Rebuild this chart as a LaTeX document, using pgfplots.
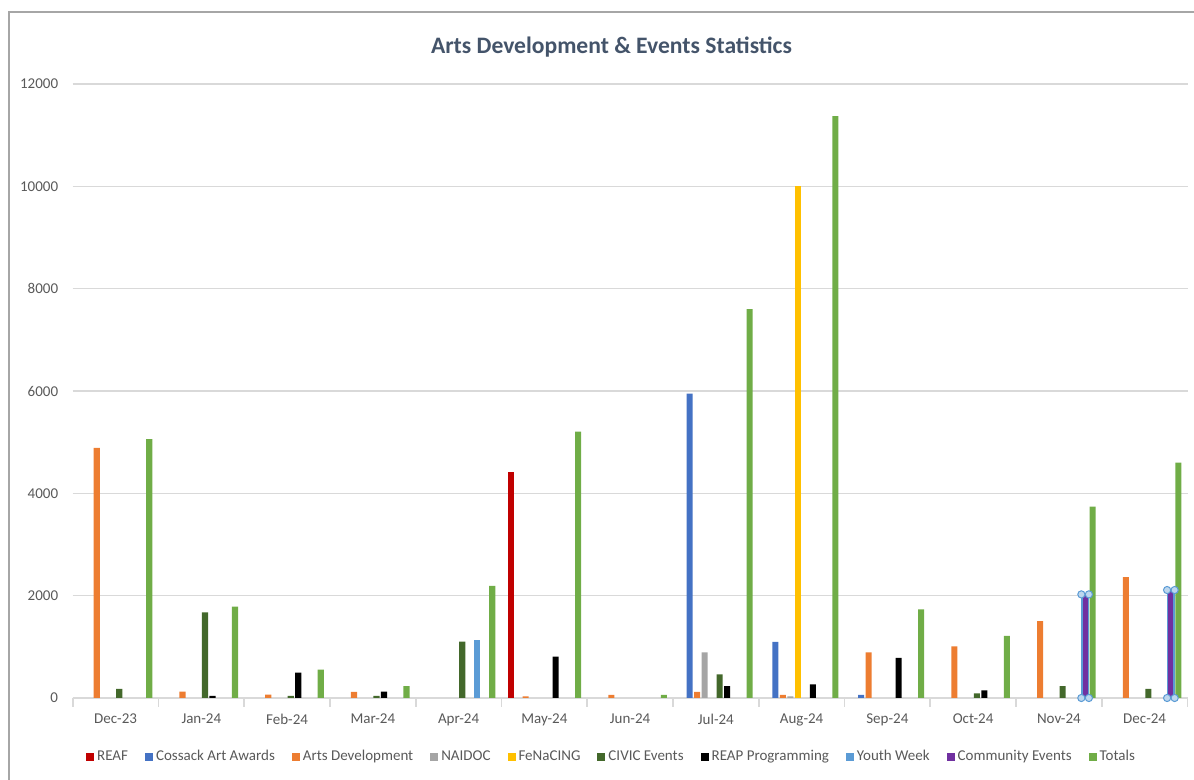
\documentclass[border=0pt]{standalone}
\usepackage{pgfplots}
\pgfplotsset{compat=1.18}
\usepackage{fontspec}
\setmainfont{Carlito}
\definecolor{cREAF}{HTML}{C00000}
\definecolor{cCossack}{HTML}{4472C4}
\definecolor{cArts}{HTML}{ED7D31}
\definecolor{cNAIDOC}{HTML}{A5A5A5}
\definecolor{cFeN}{HTML}{FFC000}
\definecolor{cCIVIC}{HTML}{43682B}
\definecolor{cREAP}{HTML}{000000}
\definecolor{cYouth}{HTML}{5B9BD5}
\definecolor{cComm}{HTML}{7030A0}
\definecolor{cTot}{HTML}{70AD47}
\definecolor{cGrid}{HTML}{D9D9D9}
\definecolor{cTxt}{HTML}{595959}
\definecolor{cTitle}{HTML}{44546A}
\definecolor{cBorder}{HTML}{A6A6A6}
\definecolor{cHandleFill}{HTML}{BDD7EE}
\begin{document}
\begin{tikzpicture}
\path[use as bounding box] (0,0) rectangle (597pt,390pt);
\draw[cBorder, line width=0.8pt] (4.5pt,0pt) -- (4.5pt,384pt);
\draw[cBorder, line width=0.8pt] (4.1pt,384pt) -- (597pt,384pt);
\begin{axis}[
  at={(36.35pt,41pt)}, anchor=south west,
  scale only axis, width=557.4pt, height=307pt,
  xmin=-0.5, xmax=12.5, ymin=0, ymax=12000,
  clip=false,
  axis x line*=bottom,
  axis y line*=left,
  x axis line style={cGrid, line width=0.8pt, -},
  y axis line style={draw=none, -},
  xtick={0,...,12},
  xticklabels={Dec-23,Jan-24,Feb-24,Mar-24,Apr-24,May-24,Jun-24,Jul-24,Aug-24,Sep-24,Oct-24,Nov-24,Dec-24},
  major x tick style={draw=none},
  minor xtick={-0.5,0.5,...,12.5},
  minor x tick style={cGrid, line width=0.8pt},
  minor tick length=4.5pt,
  tick align=outside,
  ytick={0,2000,...,12000},
  scaled y ticks=false,
  yticklabel={\pgfmathprintnumber[fixed,precision=0,1000 sep={}]{\tick}},
  ymajorgrids,
  grid style={cGrid, line width=0.8pt},
  major y tick style={draw=none},
  ticklabel style={font=\fontsize{7.5}{9}\selectfont, text=cTxt},
  yticklabel style={xshift=0.5pt},
  /pgf/number format/1000 sep={},
  /pgf/number format/assume math mode=true,
  title={Arts Development \& Events Statistics},
  title style={at={(0.4833,1.0405)}, anchor=center, font=\fontsize{11.8}{14}\selectfont\bfseries, text=cTitle},
  legend columns=10,
  legend style={at={(0.4838,-0.0961)}, anchor=center, draw=none, fill=none,
    font=\fontsize{7.5}{9}\selectfont, text=cTxt,
    /tikz/every odd column/.append style={column sep=0pt},
    /tikz/every even column/.append style={column sep=7pt},
    nodes={inner xsep=1.5pt}},
  legend image code/.code={\path[#1, draw=none] (0pt,-2.2pt) rectangle (4pt,2.2pt);},
  mybar/.style={ybar, bar width=3.1pt, draw=none, fill=#1},
]
\addplot[mybar=cREAF, bar shift=-16.875pt] coordinates {(5,4420)};
\addlegendentry{REAF}
\addplot[mybar=cCossack, bar shift=-13.125pt] coordinates {(7,5950) (8,1095) (9,60)};
\addlegendentry{Cossack Art Awards}
\addplot[mybar=cArts, bar shift=-9.375pt] coordinates {(0,4890) (1,125) (2,65) (3,120) (5,30) (6,60) (7,120) (8,60) (9,890) (10,1010) (11,1500) (12,2360)};
\addlegendentry{Arts Development}
\addplot[mybar=cNAIDOC, bar shift=-5.625pt] coordinates {(7,890) (8,30)};
\addlegendentry{NAIDOC}
\addplot[mybar=cFeN, bar shift=-1.875pt] coordinates {(8,10000)};
\addlegendentry{FeNaCING}
\addplot[mybar=cCIVIC, bar shift=1.875pt] coordinates {(0,180) (1,1675) (2,40) (3,40) (4,1100) (7,462) (10,90) (11,234) (12,176)};
\addlegendentry{CIVIC Events}
\addplot[mybar=cREAP, bar shift=5.625pt] coordinates {(1,40) (2,495) (3,123) (5,808) (7,234) (8,267) (9,782) (10,150)};
\addlegendentry{REAP Programming}
\addplot[mybar=cYouth, bar shift=9.375pt] coordinates {(4,1127)};
\addlegendentry{Youth Week}
\addplot[ybar, bar width=3.1pt, fill=cComm, draw=cYouth, line width=0.6pt, bar shift=13.125pt] coordinates {(11,2025) (12,2110)};
\addlegendentry{Community Events}
\addplot[mybar=cTot, bar shift=16.875pt] coordinates {(0,5060) (1,1785) (2,553) (3,234) (4,2190) (5,5205) (6,59) (7,7600) (8,11370) (9,1733) (10,1212) (11,3740) (12,4600)};
\addlegendentry{Totals}
\addplot[forget plot, only marks, mark=*, mark size=1.8pt, mark options={fill=cHandleFill, draw=cYouth, line width=0.5pt}] coordinates {(11.262,2025) (11.350,2025) (11.262,0) (11.350,0) (12.262,2110) (12.350,2110) (12.262,0) (12.350,0)};
\end{axis}
\end{tikzpicture}
\end{document}
